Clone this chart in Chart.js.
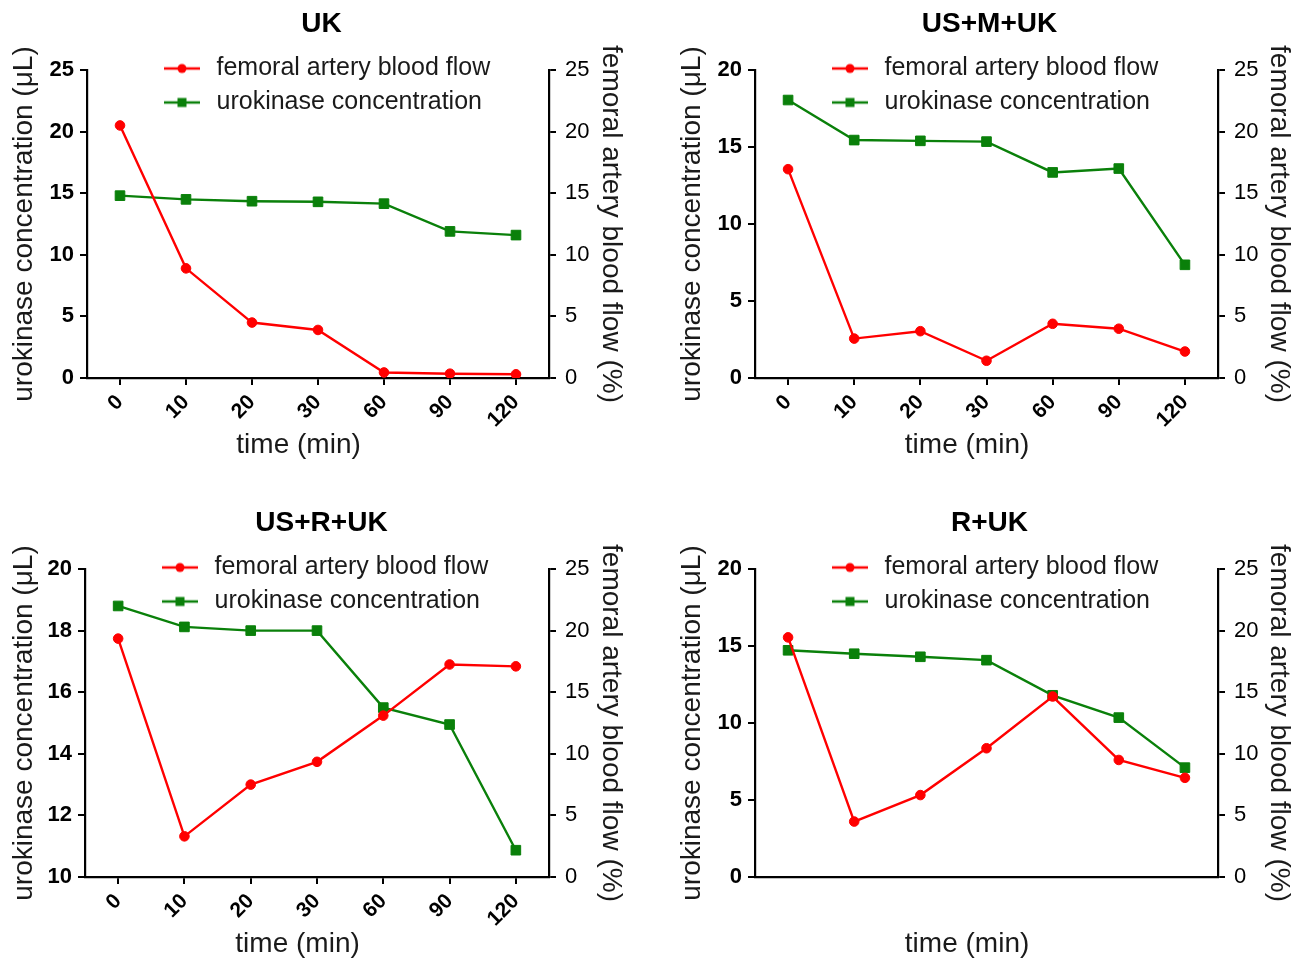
<!DOCTYPE html>
<html><head><meta charset="utf-8">
<script src="https://cdn.jsdelivr.net/npm/chart.js@4/dist/chart.umd.min.js"></script>
<style>
html,body{margin:0;padding:0;background:#fff;width:1311px;height:961px;overflow:hidden}
canvas{position:absolute;display:block}
</style></head><body>
<canvas id="c1" width="643" height="462" style="left:0px;top:0px"></canvas>
<canvas id="c2" width="643" height="462" style="left:668px;top:0px"></canvas>
<canvas id="c3" width="643" height="462" style="left:0px;top:499px"></canvas>
<canvas id="c4" width="643" height="462" style="left:668px;top:499px"></canvas>
<script>
// ---- data ----
const timeLabels = ['0', '10', '20', '30', '60', '90', '120'];
const seriesNames = ['femoral artery blood flow', 'urokinase concentration'];
const panelTitles = ['UK', 'US+M+UK', 'US+R+UK', 'R+UK'];

const ukFlow  = [20.5, 8.9, 4.5, 3.9, 0.45, 0.35, 0.3];
const ukConc  = [14.8, 14.5, 14.35, 14.3, 14.15, 11.9, 11.6];
const usmFlow = [16.95, 3.2, 3.8, 1.4, 4.4, 4.0, 2.15];
const usmConc = [18.05, 15.45, 15.4, 15.35, 13.35, 13.6, 7.35];
const usrFlow = [19.35, 3.3, 7.5, 9.35, 13.1, 17.25, 17.1];
const usrConc = [18.8, 18.12, 18.0, 18.0, 15.5, 14.95, 10.87];
const rFlow   = [19.45, 4.5, 6.65, 10.45, 14.65, 9.5, 8.05];
const rConc   = [14.72, 14.5, 14.3, 14.08, 11.8, 10.35, 7.1];

// axis ranges [min, max, step]
const ukConcAxis  = [0, 25, 5];
const usmConcAxis = [0, 20, 5];
const usrConcAxis = [10, 20, 2];
const rConcAxis   = [0, 20, 5];
const flowAxis    = [0, 25, 5];

// ---- style ----
const FONT = "'Liberation Sans', Arial, Helvetica, sans-serif";
Chart.defaults.font.family = FONT;
Chart.defaults.color = '#111';
const RED = '#ff0000';
const GREEN = '#0a800a';

function markerImg(color, shape) {
  const c = document.createElement('canvas');
  c.width = 36; c.height = 12;
  const g = c.getContext('2d');
  g.strokeStyle = color; g.lineWidth = 2.5;
  g.beginPath(); g.moveTo(0, 6); g.lineTo(36, 6); g.stroke();
  g.fillStyle = color;
  if (shape === 'circle') { g.beginPath(); g.arc(18, 6, 4.5, 0, Math.PI * 2); g.fill(); }
  else { g.fillRect(13.5, 1.5, 9, 9); }
  return c;
}
const legendImgs = [markerImg(RED, 'circle'), markerImg(GREEN, 'rect')];

const legendPlace = {
  id: 'legendPlace',
  afterLayout(chart) {
    const lg = chart.legend;
    if (!lg) return;
    const w = lg.width;
    lg.left = chart.chartArea.left + 64;
    lg.right = lg.left + w;
    lg.top = 47;
    lg.bottom = lg.top + 300;
  }
};

function makeChart(id, title, flow, conc, concAxis, showX, leftW, rightW) {
  const ctx = document.getElementById(id);
  return new Chart(ctx, {
    type: 'line',
    data: {
      labels: timeLabels,
      datasets: [
        { label: seriesNames[0], data: flow, yAxisID: 'yR',
          borderColor: RED, backgroundColor: RED, borderWidth: 2.4,
          pointStyle: 'circle', pointRadius: 4.8, pointBorderWidth: 1,
          pointBackgroundColor: RED, pointBorderColor: RED, tension: 0 },
        { label: seriesNames[1], data: conc, yAxisID: 'yL',
          borderColor: GREEN, backgroundColor: GREEN, borderWidth: 2.4,
          pointStyle: 'rect', pointRadius: 6.8, pointBorderWidth: 1,
          pointBackgroundColor: GREEN, pointBorderColor: GREEN, tension: 0 }
      ]
    },
    options: {
      responsive: false,
      animation: false,
      layout: { padding: 0 },
      plugins: {
        tooltip: { enabled: false },
        title: { display: true, text: title, color: '#000',
          font: { size: 28, weight: 'bold', family: FONT },
          padding: { top: 7, bottom: 29.4 } },
        legend: {
          position: 'chartArea', align: 'start',
          labels: {
            usePointStyle: true, pointStyleWidth: 44, padding: 9,
            color: '#1a1a1a', font: { size: 25, family: FONT },
            generateLabels(chart) {
              const items = Chart.defaults.plugins.legend.labels.generateLabels(chart);
              items.forEach((it, i) => { it.pointStyle = legendImgs[i]; it.fontColor = '#1a1a1a'; });
              return items;
            }
          }
        }
      },
      scales: {
        x: {
          type: 'category', offset: true,
          grid: { drawOnChartArea: false, drawTicks: showX, tickLength: 7, color: '#000', lineWidth: 2, offset: false },
          border: { display: true, color: '#000', width: 2.2 },
          ticks: { display: showX, autoSkip: false, minRotation: 45, maxRotation: 45, padding: 5,
                   color: '#000', font: { size: 21, weight: 'bold', family: FONT } },
          title: { display: true, text: 'time (min)     ', color: '#1a1a1a',
                   font: { size: 28, family: FONT }, padding: { top: 0, bottom: 0 } },
          afterFit(s) { s.height = 84; }
        },
        yL: {
          type: 'linear', position: 'left', min: concAxis[0], max: concAxis[1],
          ticks: { stepSize: concAxis[2], padding: 6, color: '#000', font: { size: 22, weight: 'bold', family: FONT } },
          grid: { drawOnChartArea: false, drawTicks: true, tickLength: 7, color: '#000', lineWidth: 2 },
          border: { display: true, color: '#000', width: 2.2 },
          title: { display: true, text: 'urokinase concentration (μL)', color: '#1a1a1a',
                   font: { size: 28, family: FONT }, padding: { top: 7, bottom: 0 } },
          afterFit(s) { s.width = leftW; }
        },
        yR: {
          type: 'linear', position: 'right', min: flowAxis[0], max: flowAxis[1],
          ticks: { stepSize: flowAxis[2], padding: 9, color: '#000', font: { size: 22, family: FONT } },
          grid: { drawOnChartArea: false, drawTicks: true, tickLength: 7, color: '#000', lineWidth: 2 },
          border: { display: true, color: '#000', width: 2.2 },
          title: { display: true, text: 'femoral artery blood flow (%)', color: '#1a1a1a',
                   font: { size: 28, family: FONT }, padding: { top: 15, bottom: 0 } },
          afterFit(s) { s.width = rightW; }
        }
      }
    },
    plugins: [legendPlace]
  });
}

makeChart('c1', panelTitles[0], ukFlow, ukConc, ukConcAxis, true, 87, 94);
makeChart('c2', panelTitles[1], usmFlow, usmConc, usmConcAxis, true, 87, 93);
makeChart('c3', panelTitles[2], usrFlow, usrConc, usrConcAxis, true, 85, 94);
makeChart('c4', panelTitles[3], rFlow, rConc, rConcAxis, false, 87, 93);
</script>
</body></html>
